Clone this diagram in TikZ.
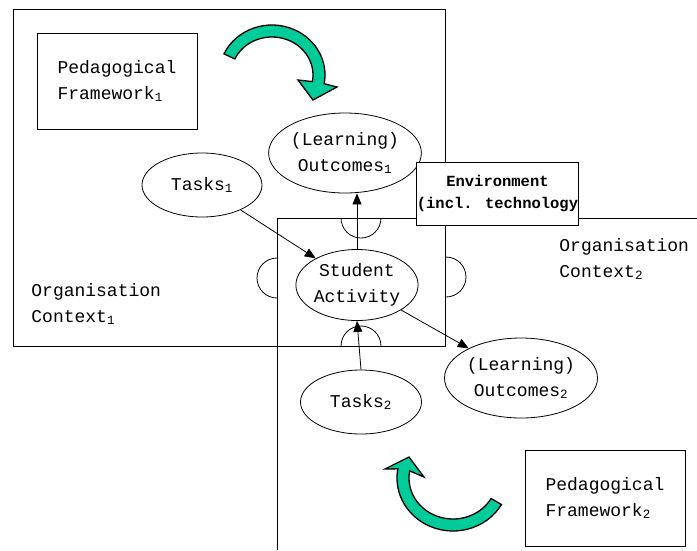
\documentclass[tikz,border=0pt]{standalone}
\usepackage{fontspec}
\setmainfont{Liberation Mono}
\usetikzlibrary{shapes.geometric, arrows.meta}
\definecolor{turnteal}{RGB}{0,204,153}
\newcommand{\diagfont}{\fontsize{18}{26}\selectfont}
\newcommand{\envfont}{\fontsize{15.5}{22}\selectfont\bfseries}

\begin{document}
\begin{tikzpicture}[x=1pt, y=1pt, line width=0.8pt,
    idea/.style={draw, ellipse, inner sep=0pt, align=center, font=\diagfont},
    framework/.style={draw, rectangle, inner sep=0pt, minimum width=160pt,
      minimum height=96pt, align=left, font=\diagfont},
    link/.style={-{Triangle[length=11pt, width=9pt]}},
    turn/.style={draw=black, line width=1.3pt, fill=turnteal},
    context/.style={inner sep=0pt, align=left, font=\diagfont, anchor=west}]
  \useasboundingbox (0,0) rectangle (697,-550);
  % organisation contexts
  \draw (13,-9) rectangle (445,-346);
  \draw (277,-550) -- (277,-218) -- (697,-218);
  % bumps on the shared square
  \draw (341,-218) arc (180:360:20);
  \draw (277,-258) arc (90:270:20);
  \draw (446,-257) arc (90:-90:20);
  \draw (341,-346) arc (180:0:20);
  % nodes
  \node[framework] (ped1) at (117,-81) {Pedagogical\\Framework\textsubscript{1}};
  \node[framework] (ped2) at (605,-498) {Pedagogical\\Framework\textsubscript{2}};
  \node[idea, minimum width=151pt, minimum height=80pt] (lo1) at (345,-153)
    {(Learning)\\Outcomes\textsubscript{1}};
  \node[idea, minimum width=120pt, minimum height=64pt] (t1) at (202,-185)
    {Tasks\textsubscript{1}};
  \node[idea, minimum width=112pt, minimum height=71pt] (sa) at (357,-285)
    {Student\\Activity};
  \node[idea, minimum width=121pt, minimum height=64pt] (t2) at (361,-402)
    {Tasks\textsubscript{2}};
  \node[idea, minimum width=153pt, minimum height=80pt] (lo2) at (521,-378)
    {(Learning)\\Outcomes\textsubscript{2}};
  \node[draw, fill=white, inner sep=0pt, minimum width=151pt, minimum height=63pt,
    align=center, font=\envfont] (env) at (497.5,-193.5)
    {Environment\\(incl. technology};
  \node[context] (org1) at (31,-304) {Organisation\\Context\textsubscript{1}};
  \node[context] (org2) at (559,-259) {Organisation\\Context\textsubscript{2}};
  % connectors
  \draw[link] (sa.north) -- (sa.north |- lo1.south);
  \draw[link] (t1) -- (sa);
  \draw[link] (sa) -- (lo2);
  \draw[link] (t2.north) -- (sa.south);
  % turning arrows
  \draw[turn] ([shift={(272,-75)}]155:53 and 50)
    arc[start angle=155, end angle=-10, x radius=53, y radius=50]
    -- (337,-87) -- (313,-100) -- (298,-80)
    -- ([shift={(272,-75)}]-10:41 and 38)
    arc[start angle=-10, end angle=155, x radius=41, y radius=38] -- cycle;
  \draw[turn] ([shift={(453,-478)}]-30:56 and 53)
    arc[start angle=-30, end angle=-190, x radius=56, y radius=53]
    -- (385,-469) -- (409,-457) -- (424,-477)
    -- ([shift={(453,-478)}]-190:44 and 41)
    arc[start angle=-190, end angle=-30, x radius=44, y radius=41] -- cycle;
\end{tikzpicture}
\end{document}
